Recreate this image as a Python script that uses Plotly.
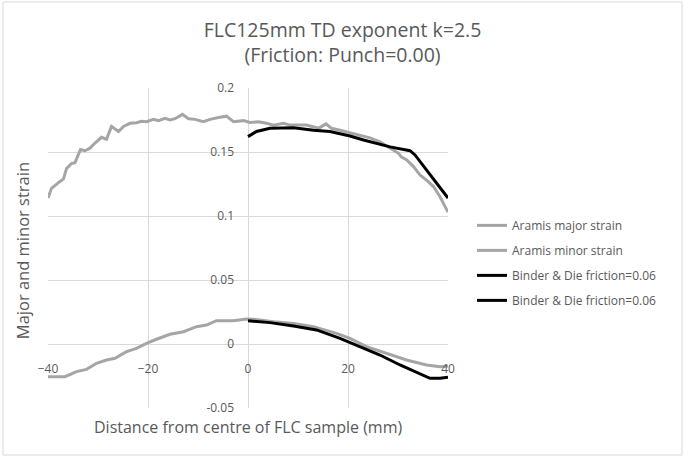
import plotly.graph_objects as go

# Aramis measured strains (gray)
major_x = [-40, -39.3, -37.6, -36.9, -36.3, -35.3, -34.6, -33.5, -32.6, -31.6, -30.6, -29.3, -28.3, -27.3,
           -25.9, -24.9, -23.6, -22.3, -21.3, -20.3, -18.9, -17.9, -16.6, -15.6, -14.6, -13.1, -11.9,
           -10.6, -8.9, -7.6, -5.9, -4.3, -2.9, -0.9, 0.4, 2.1, 3.7, 5.1, 7.1, 8.4, 11.7, 14.1, 15.6,
           16.7, 18.4, 20.4, 22.4, 24.4, 26.4, 28.4, 30.1, 30.7, 31.7, 33.1, 34.4, 35.7, 37.1, 38.4, 39.7, 40]
major_y = [0.114, 0.1216, 0.127, 0.129, 0.137, 0.141, 0.1417, 0.152, 0.151, 0.153, 0.157, 0.1615, 0.160, 0.170,
           0.166, 0.170, 0.1724, 0.1729, 0.174, 0.1737, 0.1755, 0.1745, 0.1763, 0.175, 0.176, 0.1794, 0.176,
           0.1755, 0.1737, 0.1755, 0.177, 0.178, 0.1737, 0.1745, 0.173, 0.1737, 0.1724, 0.171, 0.1724, 0.171,
           0.171, 0.1685, 0.172, 0.1685, 0.167, 0.165, 0.163, 0.161, 0.158, 0.153, 0.149, 0.146, 0.144,
           0.1386, 0.132, 0.128, 0.123, 0.115, 0.1047, 0.103]

minor_x = [-40, -36.6, -34.3, -32.3, -30.3, -28.3, -26.6, -24.3, -22.3, -20.3, -18.3, -15.6, -12.9, -10.3,
           -8.3, -6.3, -2.9, -0.3, 1.1, 5.1, 9.1, 13.1, 17.7, 20.4, 23.7, 27.7, 31.7, 35.7, 38.4, 40]
minor_y = [-0.0255, -0.0255, -0.0216, -0.0198, -0.0151, -0.0125, -0.0112, -0.006, -0.0034, 0.0005, 0.0037,
           0.0076, 0.0096, 0.0135, 0.0148, 0.0182, 0.0182, 0.0195, 0.0193, 0.0174, 0.0161, 0.0135, 0.0083,
           0.0044, -0.0021, -0.0073, -0.0125, -0.0164, -0.0177, -0.0172]

# Simulation (black)
sim_major_x = [0, 1.7, 4.4, 9.1, 13.1, 16.4, 20.4, 23.1, 28.4, 32.4, 33.4, 35.7, 37.7, 40]
sim_major_y = [0.162, 0.166, 0.1685, 0.169, 0.167, 0.166, 0.1625, 0.1594, 0.154, 0.151, 0.1477, 0.136, 0.1255, 0.114]

sim_minor_x = [0, 4.4, 9.1, 13.7, 18.4, 21.7, 26.4, 30.4, 34.4, 36.4, 38.4, 40]
sim_minor_y = [0.0182, 0.0167, 0.014, 0.011, 0.0044, -0.0008, -0.0086, -0.0164, -0.0234, -0.0268, -0.0268, -0.026]

x_ticks = [-40, -20, 0, 20, 40]
y_ticks = [-0.05, 0, 0.05, 0.1, 0.15, 0.2]

gray = "#a5a5a5"
font = "Open Sans"
text_col = "#595959"

fig = go.Figure()
fig.add_trace(go.Scatter(x=major_x, y=major_y, mode="lines", name="Aramis major strain",
                         line=dict(color=gray, width=3), legendgroup="a"))
fig.add_trace(go.Scatter(x=minor_x, y=minor_y, mode="lines", name="Aramis minor strain",
                         line=dict(color=gray, width=3), legendgroup="b"))
fig.add_trace(go.Scatter(x=sim_major_x, y=sim_major_y, mode="lines", name="Binder & Die friction=0.06",
                         line=dict(color="black", width=3), legendgroup="c"))
fig.add_trace(go.Scatter(x=sim_minor_x, y=sim_minor_y, mode="lines", name="Binder & Die friction=0.06",
                         line=dict(color="black", width=3), legendgroup="d"))

fig.update_layout(
    width=685, height=458,
    margin=dict(l=48, r=237, t=88, b=50, autoexpand=False),
    paper_bgcolor="white", plot_bgcolor="white",
    font=dict(family=font, color=text_col, size=12),
    title=dict(text="FLC125mm TD exponent k=2.5<br>(Friction: Punch=0.00)",
               x=0.5, xanchor="center", y=0.92, yanchor="top",
               font=dict(size=19.5, color=text_col)),
    showlegend=True,
    legend=dict(x=1.06, y=0.616, xanchor="left", yanchor="top", traceorder="grouped",
                tracegroupgap=6, font=dict(size=12, color=text_col), bgcolor="rgba(0,0,0,0)"),
    xaxis=dict(range=[-40, 40], tickvals=x_ticks, showgrid=True, gridcolor="#d9d9d9",
               zeroline=False, showline=False, anchor="free", position=0.2, automargin=False,
               ticks="", ticklabelstandoff=16, tickfont=dict(size=12, color=text_col)),
    yaxis=dict(range=[-0.05, 0.2], tickvals=y_ticks, ticktext=["-0.05", "0", "0.05", "0.1", "0.15", "0.2"],
               showgrid=True, gridcolor="#d9d9d9", zeroline=False, showline=False,
               anchor="free", position=0.5, automargin=False, ticks="", ticklabelstandoff=14,
               tickfont=dict(size=12, color=text_col)),
    annotations=[
        dict(text="Major and minor strain", x=-0.065, y=0.49, xref="paper", yref="paper",
             xanchor="center", yanchor="middle",
             textangle=-90, showarrow=False, font=dict(size=16.5, color=text_col)),
        dict(text="Distance from centre of FLC sample (mm)", x=0.5, y=-0.06, xref="paper", yref="paper",
             yanchor="middle", showarrow=False, font=dict(size=16, color=text_col)),
    ],
    shapes=[dict(type="rect", xref="paper", yref="paper", x0=-0.1125, x1=1.585, y0=-0.147, y1=1.269,
                 line=dict(color="#d9d9d9", width=1))],
)

# drop the default page margin so the figure sits at the window's corner
fig.write_html("out.html", config={"displayModeBar": False},
               post_script="document.body.style.margin='0';")
